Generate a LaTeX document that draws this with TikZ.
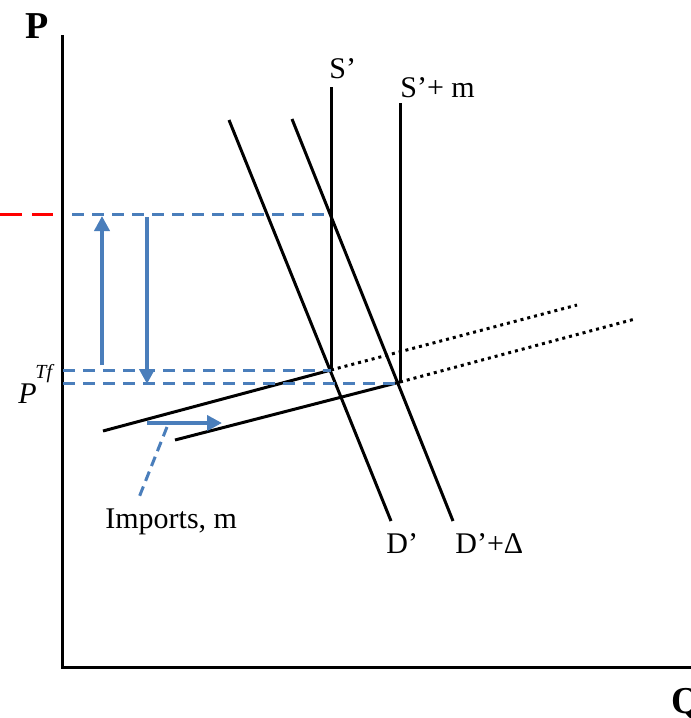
\documentclass[tikz,border=0pt]{standalone}
\usepackage{fontspec}
\setmainfont{Liberation Serif}
\usetikzlibrary{arrows.meta}
\definecolor{ablue}{HTML}{4A7EBB}
\tikzset{
  curve/.style={line width=1.5pt,black},
  dotline/.style={line width=1.5pt,black,dash pattern=on 1.5pt off 2pt},
  bdash/.style={line width=1.5pt,ablue,dash pattern=on 6pt off 4pt},
  rdash/.style={line width=1.5pt,red,dash pattern=on 11pt off 5pt},
  barrow/.style={line width=2pt,ablue,-{Triangle[length=7.5pt,width=7.5pt]}},
  lab/.style={inner sep=0pt,font=\fontsize{15}{18}\selectfont},
  axlab/.style={inner sep=0pt,font=\fontsize{19}{22}\selectfont\bfseries},
}
\begin{document}
\begin{tikzpicture}[x=0.5pt,y=-0.5pt]
\useasboundingbox (0,0) rectangle (691,718);
% axes
\coordinate (Otop) at (62,35);
\coordinate (O) at (62,667);
\coordinate (Oright) at (691,667);
\draw[curve] (Otop) -- (O) -- (Oright);
\node[axlab] (P) at (37,26) {P};
\node[axlab,anchor=west] (Q) at (671,704) {Q};
% key points
\coordinate (E1) at (331,370);
\coordinate (E2) at (400,382);
% verticals
\coordinate (Stop) at (331,87);
\coordinate (Smtop) at (400,103);
\draw[curve] (Stop) -- (E1);
\draw[curve] (Smtop) -- (E2);
% demand lines
\coordinate (D1a) at (229,120);
\coordinate (D1b) at (391,521);
\coordinate (D2a) at (292,119);
\coordinate (D2b) at (453,521);
\draw[curve] (D1a) -- (D1b);
\draw[curve] (D2a) -- (D2b);
% supply lines
\coordinate (S1a) at (103,431);
\coordinate (S1b) at (577,305);
\coordinate (S2a) at (175,440);
\coordinate (S2b) at (635,319);
\draw[curve] (S1a) -- (E1);
\draw[dotline] (E1) -- (S1b);
\draw[curve] (S2a) -- (E2);
\draw[dotline] (E2) -- (S2b);
% dashed price lines
\coordinate (Ptop) at (72,214);
\coordinate (Ptopr) at (331,214);
\coordinate (Pm1) at (63,370);
\coordinate (Pm2) at (63,383);
\coordinate (E2l) at (400,383);
\draw[bdash] (Ptop) -- (Ptopr);
\draw[bdash] (Pm1) -- (E1);
\draw[bdash] (Pm2) -- (E2l);
\coordinate (R0) at (0,214);
\coordinate (R1) at (53,214);
\draw[rdash] (R0) -- (R1);
% vertical arrows
\coordinate (U0) at (102,365);
\coordinate (U1) at (102,216);
\coordinate (V0) at (147,217);
\coordinate (V1) at (147,384);
\draw[barrow] (U0) -- (U1);
\draw[barrow] (V0) -- (V1);
% imports arrow
\coordinate (H0) at (147,423);
\coordinate (H1) at (222,423);
\draw[barrow] (H0) -- (H1);
% labels
\node[lab,anchor=base west] (imp) at (105,528) {Imports, m};
\coordinate (L0) at (167,427);
\coordinate (L1) at (138,500);
\draw[bdash,dash pattern=on 5pt off 3pt] (L0) -- (L1);
\node[lab,anchor=base west] (Slab) at (329,78) {S’};
\node[lab,anchor=base west] (Smlab) at (400,97) {S’+ m};
\node[lab,anchor=base west] (D1lab) at (386,553) {D’};
\node[lab,anchor=base west] (D2lab) at (455,553) {D’+Δ};
\node[lab,anchor=base west,font=\fontsize{15}{18}\selectfont\itshape] (PTf) at (18,403) {P};
\node[lab,anchor=base west,font=\fontsize{10}{12}\selectfont\itshape] (Tf) at (35,378) {Tf};
\end{tikzpicture}
\end{document}
